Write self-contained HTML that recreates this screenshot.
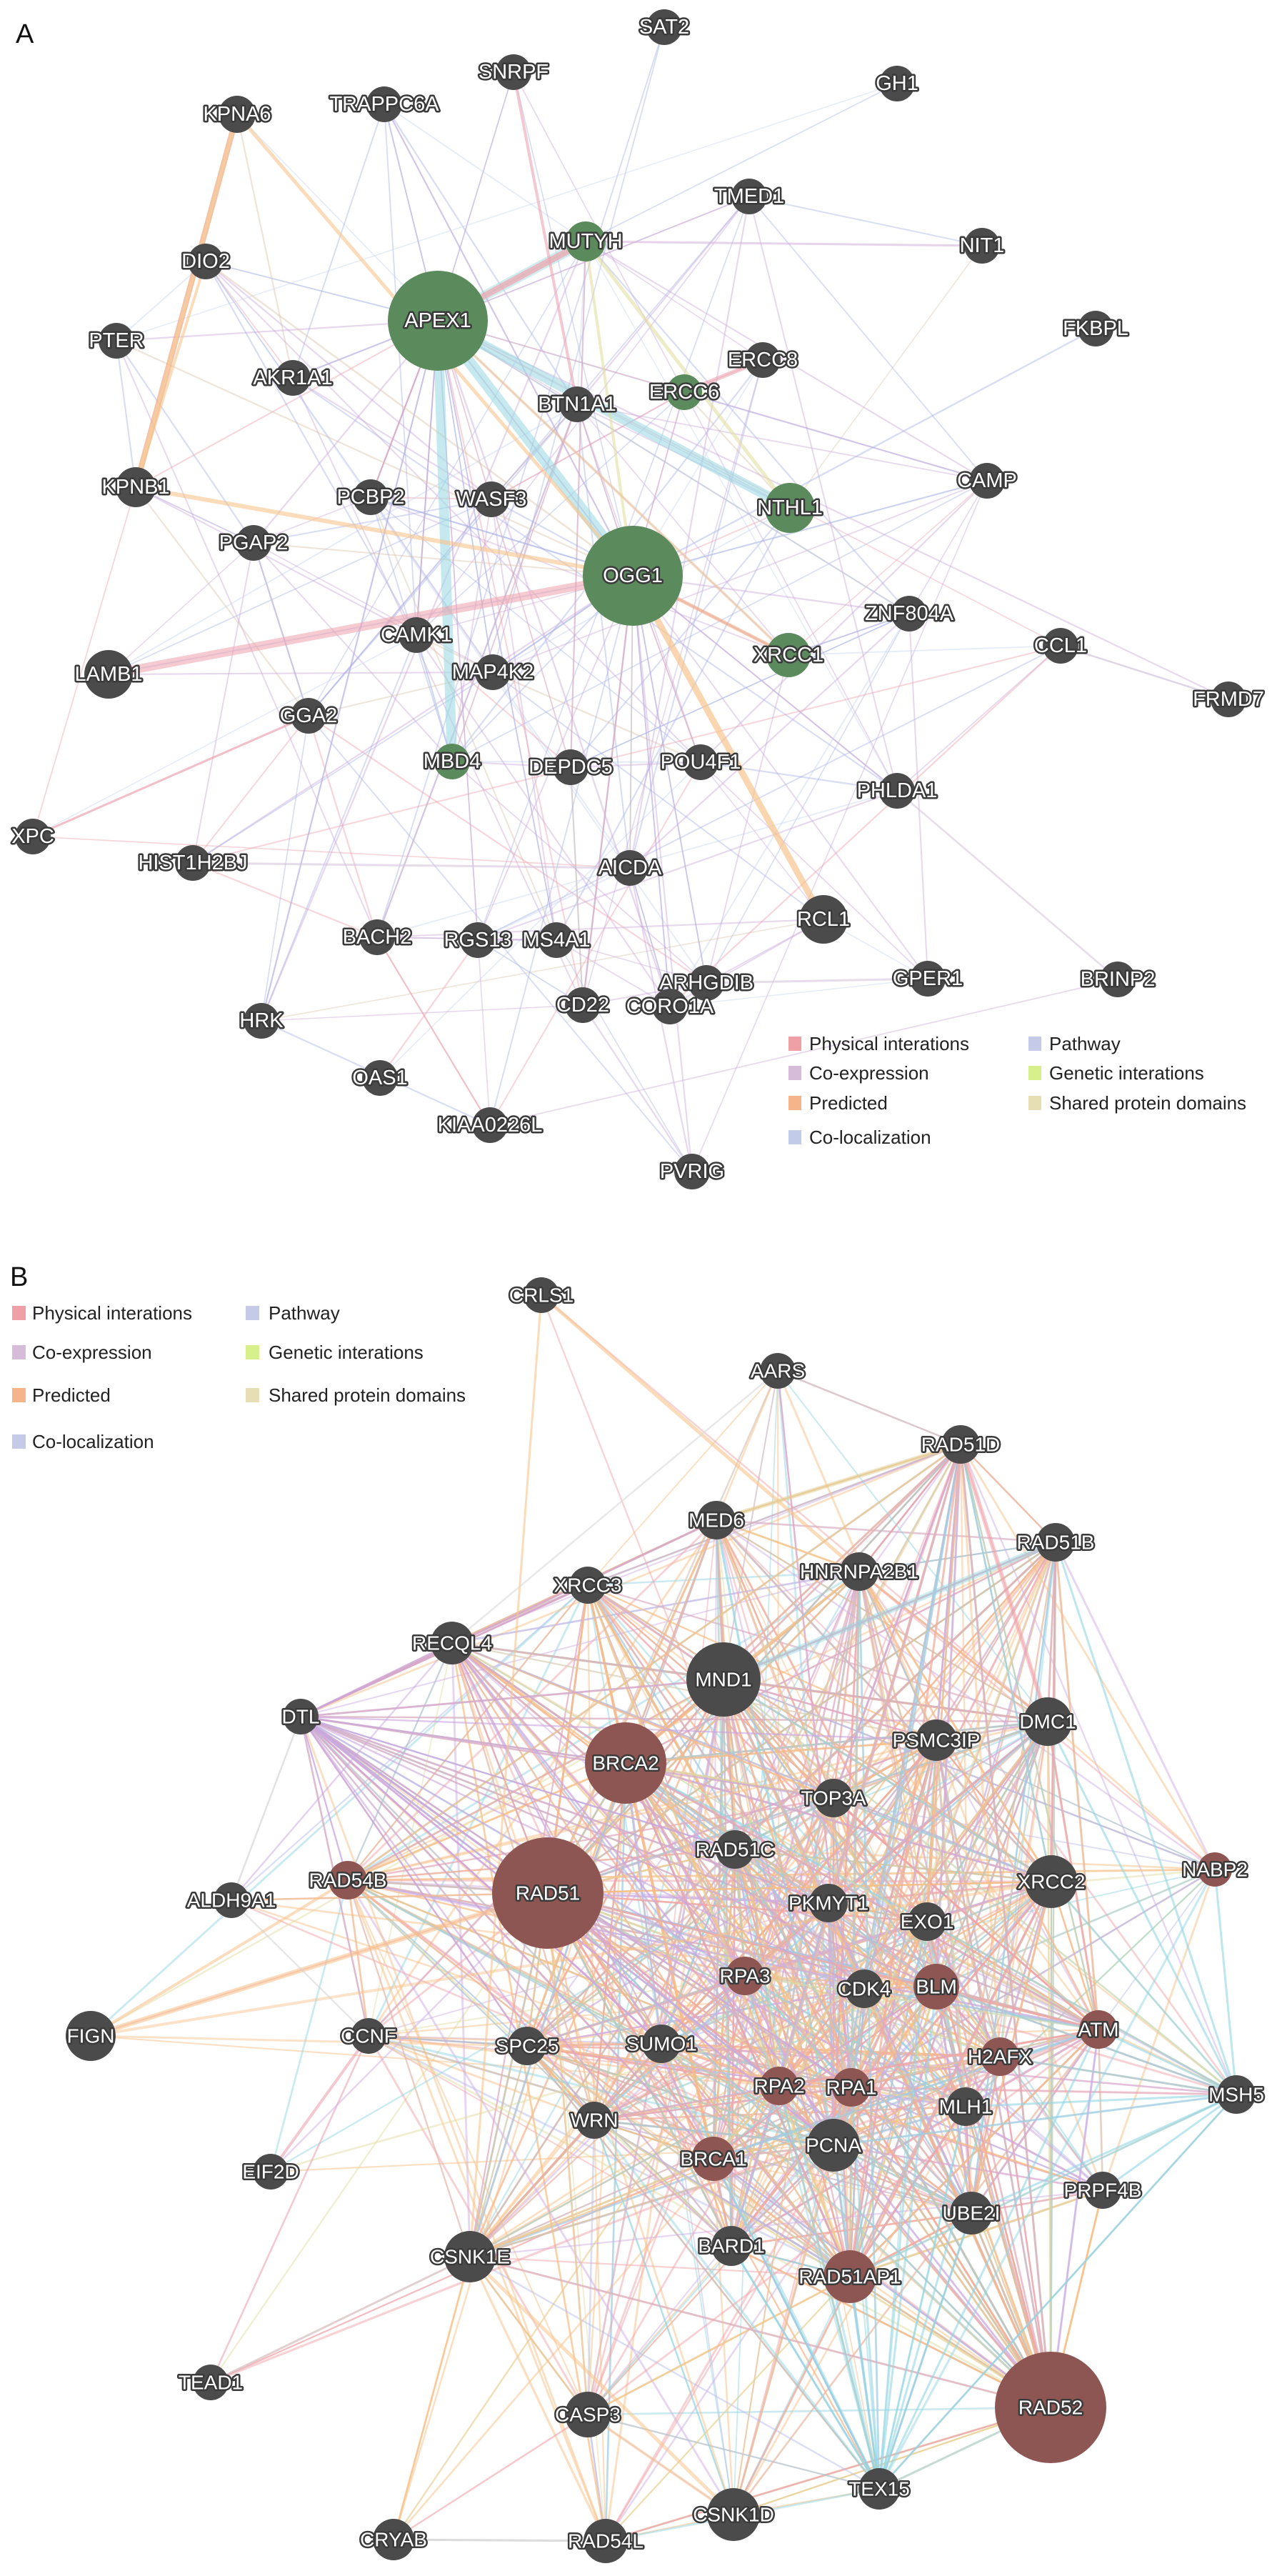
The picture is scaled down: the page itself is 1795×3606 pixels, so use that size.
<!DOCTYPE html>
<html><head><meta charset="utf-8"><style>
html,body{margin:0;padding:0;background:#fff;}
svg{display:block;}
.n text{font-family:"Liberation Sans Narrow","Liberation Sans",sans-serif;font-size:29px;fill:#fff;stroke:#3a3a3a;stroke-width:5px;paint-order:stroke;stroke-linejoin:round;text-anchor:middle;dominant-baseline:central;}
.b text{font-family:"Liberation Sans",sans-serif;font-size:28px;}
.n circle{fill:#4b4b4b;}
.g circle{fill:#5b8a5c;}
.r circle{fill:#8e5652;}
.lg text{font-family:"Liberation Sans",sans-serif;font-size:26px;fill:#222;dominant-baseline:central;}
.big{font-family:"Liberation Sans",sans-serif;font-size:38px;fill:#111;}
</style></head><body>
<svg id="s" width="1795" height="3606" viewBox="0 0 1795 3606" xmlns="http://www.w3.org/2000/svg">
<rect width="1795" height="3606" fill="#fff"/>
<g id="edges"></g>
<g id="nodes">
<!-- A -->
<g class="n a" transform="translate(930,38)"><circle r="25"/><text>SAT2</text></g>
<g class="n a" transform="translate(719,101)"><circle r="25"/><text>SNRPF</text></g>
<g class="n a" transform="translate(1256,117)"><circle r="25"/><text>GH1</text></g>
<g class="n a" transform="translate(332,160)"><circle r="26"/><text>KPNA6</text></g>
<g class="n a" transform="translate(538,146)"><circle r="25"/><text>TRAPPC6A</text></g>
<g class="n a" transform="translate(1049,275)"><circle r="25"/><text>TMED1</text></g>
<g class="n a g" transform="translate(820,338)"><circle r="28"/><text>MUTYH</text></g>
<g class="n a" transform="translate(1375,344)"><circle r="25"/><text>NIT1</text></g>
<g class="n a" transform="translate(288,366)"><circle r="25"/><text>DIO2</text></g>
<g class="n a g" transform="translate(613,449)"><circle r="70"/><text>APEX1</text></g>
<g class="n a" transform="translate(1534,460)"><circle r="25"/><text>FKBPL</text></g>
<g class="n a" transform="translate(163,477)"><circle r="25"/><text>PTER</text></g>
<g class="n a" transform="translate(410,529)"><circle r="25"/><text>AKR1A1</text></g>
<g class="n a" transform="translate(1068,504)"><circle r="25"/><text>ERCC8</text></g>
<g class="n a g" transform="translate(958,549)"><circle r="25"/><text>ERCC6</text></g>
<g class="n a" transform="translate(808,566)"><circle r="25"/><text>BTN1A1</text></g>
<g class="n a" transform="translate(190,682)"><circle r="28"/><text>KPNB1</text></g>
<g class="n a" transform="translate(519,696)"><circle r="25"/><text>PCBP2</text></g>
<g class="n a" transform="translate(688,699)"><circle r="25"/><text>WASF3</text></g>
<g class="n a" transform="translate(1382,673)"><circle r="25"/><text>CAMP</text></g>
<g class="n a g" transform="translate(1106,711)"><circle r="35"/><text>NTHL1</text></g>
<g class="n a" transform="translate(355,760)"><circle r="25"/><text>PGAP2</text></g>
<g class="n a g" transform="translate(886,806)"><circle r="70"/><text>OGG1</text></g>
<g class="n a" transform="translate(1273,859)"><circle r="25"/><text>ZNF804A</text></g>
<g class="n a" transform="translate(583,889)"><circle r="25"/><text>CAMK1</text></g>
<g class="n a" transform="translate(1485,904)"><circle r="25"/><text>CCL1</text></g>
<g class="n a" transform="translate(152,944)"><circle r="34"/><text>LAMB1</text></g>
<g class="n a g" transform="translate(1104,917)"><circle r="31"/><text>XRCC1</text></g>
<g class="n a" transform="translate(690,941)"><circle r="25"/><text>MAP4K2</text></g>
<g class="n a" transform="translate(1720,979)"><circle r="25"/><text>FRMD7</text></g>
<g class="n a" transform="translate(432,1002)"><circle r="25"/><text>GGA2</text></g>
<g class="n a g" transform="translate(633,1066)"><circle r="25"/><text>MBD4</text></g>
<g class="n a" transform="translate(799,1074)"><circle r="25"/><text>DEPDC5</text></g>
<g class="n a" transform="translate(981,1067)"><circle r="25"/><text>POU4F1</text></g>
<g class="n a" transform="translate(1256,1107)"><circle r="25"/><text>PHLDA1</text></g>
<g class="n a" transform="translate(46,1171)"><circle r="25"/><text>XPC</text></g>
<g class="n a" transform="translate(270,1208)"><circle r="25"/><text>HIST1H2BJ</text></g>
<g class="n a" transform="translate(882,1215)"><circle r="25"/><text>AICDA</text></g>
<g class="n a" transform="translate(1153,1287)"><circle r="34"/><text>RCL1</text></g>
<g class="n a" transform="translate(528,1312)"><circle r="25"/><text>BACH2</text></g>
<g class="n a" transform="translate(669,1316)"><circle r="25"/><text>RGS13</text></g>
<g class="n a" transform="translate(779,1316)"><circle r="25"/><text>MS4A1</text></g>
<g class="n a" transform="translate(989,1376)"><circle r="25"/><text>ARHGDIB</text></g>
<g class="n a" transform="translate(1299,1370)"><circle r="25"/><text>GPER1</text></g>
<g class="n a" transform="translate(1565,1371)"><circle r="25"/><text>BRINP2</text></g>
<g class="n a" transform="translate(366,1429)"><circle r="25"/><text>HRK</text></g>
<g class="n a" transform="translate(816,1407)"><circle r="25"/><text>CD22</text></g>
<g class="n a" transform="translate(938,1409)"><circle r="25"/><text>CORO1A</text></g>
<g class="n a" transform="translate(532,1509)"><circle r="25"/><text>OAS1</text></g>
<g class="n a" transform="translate(686,1575)"><circle r="25"/><text>KIAA0226L</text></g>
<g class="n a" transform="translate(969,1640)"><circle r="25"/><text>PVRIG</text></g>
<!-- B -->
<g class="n b" transform="translate(758,1813)"><circle r="25"/><text>CRLS1</text></g>
<g class="n b" transform="translate(1089,1919)"><circle r="25"/><text>AARS</text></g>
<g class="n b" transform="translate(1345,2022)"><circle r="27"/><text>RAD51D</text></g>
<g class="n b" transform="translate(1003,2128)"><circle r="27"/><text>MED6</text></g>
<g class="n b" transform="translate(1478,2159)"><circle r="27"/><text>RAD51B</text></g>
<g class="n b" transform="translate(823,2219)"><circle r="26"/><text>XRCC3</text></g>
<g class="n b" transform="translate(1203,2200)"><circle r="27"/><text>HNRNPA2B1</text></g>
<g class="n b" transform="translate(633,2300)"><circle r="30"/><text>RECQL4</text></g>
<g class="n b" transform="translate(1013,2351)"><circle r="52"/><text>MND1</text></g>
<g class="n b" transform="translate(421,2403)"><circle r="25"/><text>DTL</text></g>
<g class="n b" transform="translate(1467,2410)"><circle r="34"/><text>DMC1</text></g>
<g class="n b" transform="translate(1311,2436)"><circle r="29"/><text>PSMC3IP</text></g>
<g class="n b r" transform="translate(876,2468)"><circle r="57"/><text>BRCA2</text></g>
<g class="n b" transform="translate(1167,2517)"><circle r="27"/><text>TOP3A</text></g>
<g class="n b" transform="translate(1029,2589)"><circle r="27"/><text>RAD51C</text></g>
<g class="n b r" transform="translate(1701,2617)"><circle r="24"/><text>NABP2</text></g>
<g class="n b" transform="translate(1472,2634)"><circle r="37"/><text>XRCC2</text></g>
<g class="n b r" transform="translate(487,2632)"><circle r="27"/><text>RAD54B</text></g>
<g class="n b" transform="translate(324,2660)"><circle r="25"/><text>ALDH9A1</text></g>
<g class="n b r" transform="translate(767,2650)"><circle r="78"/><text>RAD51</text></g>
<g class="n b" transform="translate(1160,2664)"><circle r="27"/><text>PKMYT1</text></g>
<g class="n b" transform="translate(1298,2690)"><circle r="27"/><text>EXO1</text></g>
<g class="n b r" transform="translate(1043,2766)"><circle r="27"/><text>RPA3</text></g>
<g class="n b" transform="translate(1210,2784)"><circle r="27"/><text>CDK4</text></g>
<g class="n b r" transform="translate(1311,2781)"><circle r="32"/><text>BLM</text></g>
<g class="n b" transform="translate(127,2850)"><circle r="35"/><text>FIGN</text></g>
<g class="n b" transform="translate(516,2850)"><circle r="25"/><text>CCNF</text></g>
<g class="n b" transform="translate(738,2864)"><circle r="27"/><text>SPC25</text></g>
<g class="n b" transform="translate(926,2861)"><circle r="27"/><text>SUMO1</text></g>
<g class="n b r" transform="translate(1538,2841)"><circle r="27"/><text>ATM</text></g>
<g class="n b r" transform="translate(1400,2879)"><circle r="27"/><text>H2AFX</text></g>
<g class="n b" transform="translate(1731,2932)"><circle r="27"/><text>MSH5</text></g>
<g class="n b r" transform="translate(1091,2920)"><circle r="27"/><text>RPA2</text></g>
<g class="n b r" transform="translate(1192,2922)"><circle r="27"/><text>RPA1</text></g>
<g class="n b" transform="translate(1352,2949)"><circle r="27"/><text>MLH1</text></g>
<g class="n b" transform="translate(832,2968)"><circle r="26"/><text>WRN</text></g>
<g class="n b" transform="translate(1167,3003)"><circle r="37"/><text>PCNA</text></g>
<g class="n b r" transform="translate(999,3022)"><circle r="31"/><text>BRCA1</text></g>
<g class="n b" transform="translate(379,3040)"><circle r="25"/><text>EIF2D</text></g>
<g class="n b" transform="translate(1544,3066)"><circle r="26"/><text>PRPF4B</text></g>
<g class="n b" transform="translate(1360,3098)"><circle r="30"/><text>UBE2I</text></g>
<g class="n b" transform="translate(1024,3144)"><circle r="28"/><text>BARD1</text></g>
<g class="n b" transform="translate(658,3159)"><circle r="36"/><text>CSNK1E</text></g>
<g class="n b r" transform="translate(1190,3187)"><circle r="37"/><text>RAD51AP1</text></g>
<g class="n b" transform="translate(295,3335)"><circle r="25"/><text>TEAD1</text></g>
<g class="n b r" transform="translate(1471,3370)"><circle r="78"/><text>RAD52</text></g>
<g class="n b" transform="translate(823,3380)"><circle r="32"/><text>CASP3</text></g>
<g class="n b" transform="translate(1231,3484)"><circle r="29"/><text>TEX15</text></g>
<g class="n b" transform="translate(1027,3520)"><circle r="37"/><text>CSNK1D</text></g>
<g class="n b" transform="translate(551,3555)"><circle r="29"/><text>CRYAB</text></g>
<g class="n b" transform="translate(848,3557)"><circle r="31"/><text>RAD54L</text></g>
</g>
<text class="big" x="22" y="60">A</text>
<text class="big" x="14" y="1800">B</text>
<g class="lg">
<rect x="1104" y="1451" width="18" height="20" fill="#ef9fa6"/><text x="1133" y="1461">Physical interations</text>
<rect x="1104" y="1492" width="18" height="20" fill="#d6bcd8"/><text x="1133" y="1502">Co-expression</text>
<rect x="1104" y="1534" width="18" height="20" fill="#f6b48a"/><text x="1133" y="1544">Predicted</text>
<rect x="1104" y="1582" width="18" height="20" fill="#c2cce8"/><text x="1133" y="1592">Co-localization</text>
<rect x="1440" y="1451" width="18" height="20" fill="#c4cae8"/><text x="1469" y="1461">Pathway</text>
<rect x="1440" y="1492" width="18" height="20" fill="#d8f08c"/><text x="1469" y="1502">Genetic interations</text>
<rect x="1440" y="1534" width="18" height="20" fill="#e6dfb4"/><text x="1469" y="1544">Shared protein domains</text>

<rect x="17" y="1828" width="19" height="20" fill="#ef9fa6"/><text x="45" y="1838">Physical interations</text>
<rect x="17" y="1883" width="19" height="20" fill="#d6bcd8"/><text x="45" y="1893">Co-expression</text>
<rect x="17" y="1943" width="19" height="20" fill="#f6b48a"/><text x="45" y="1953">Predicted</text>
<rect x="17" y="2008" width="19" height="20" fill="#c4cae8"/><text x="45" y="2018">Co-localization</text>
<rect x="344" y="1828" width="19" height="20" fill="#c4cae8"/><text x="376" y="1838">Pathway</text>
<rect x="344" y="1883" width="19" height="20" fill="#d8f08c"/><text x="376" y="1893">Genetic interations</text>
<rect x="344" y="1943" width="19" height="20" fill="#e6dfb4"/><text x="376" y="1953">Shared protein domains</text>
</g>
</svg>
<script>
(function(){
var NS='http://www.w3.org/2000/svg';
var s=12345;function R(){s=(s*1664525+1013904223)>>>0;return s/4294967296;}
var E=document.getElementById('edges');
var A=[],B=[],M={};
document.querySelectorAll('g.n').forEach(function(g){
 var t=g.getAttribute('transform').match(/translate\(([\d.]+),([\d.]+)\)/);
 var o={x:+t[1],y:+t[2],r:+g.querySelector('circle').getAttribute('r'),n:g.querySelector('text').textContent};
 M[o.n]=o;(g.classList.contains('a')?A:B).push(o);
});
var PER={'TEAD1':0.05,'FIGN':0.1,'CRLS1':0.05,'EIF2D':0.1,'CRYAB':0.1,'ALDH9A1':0.15,'AARS':0.25,'CCNF':0.4,'MSH5':0.3,'TEX15':0.3,'NABP2':0.4,'PRPF4B':0.4,'CSNK1D':0.4,'RAD54L':0.5,'CASP3':0.5,'CSNK1E':0.6,'DTL':0.6,
 'XPC':0.1,'FRMD7':0.1,'BRINP2':0.1,'GH1':0.3,'SAT2':0.4,'FKBPL':0.4,'CCL1':0.5,'PTER':0.5,'LAMB1':0.5,'HRK':0.6,'HIST1H2BJ':0.5,'GPER1':0.6,'PVRIG':0.7,'KPNA6':0.4,'NIT1':0.5};
function pf(o){return PER[o.n]===undefined?1:PER[o.n];}
function L(a,b,c,w,op){var l=document.createElementNS(NS,'line');
 l.setAttribute('x1',a.x);l.setAttribute('y1',a.y);l.setAttribute('x2',b.x);l.setAttribute('y2',b.y);
 l.setAttribute('stroke',c);l.setAttribute('stroke-width',w);l.setAttribute('stroke-opacity',op);l.setAttribute('stroke-linecap','round');E.appendChild(l);}
function pick(arr,cols){var c=R(),acc=0;for(var i=0;i<cols.length;i++){acc+=cols[i][1];if(c<acc)return cols[i][0];}return cols[0][0];}
var colsA=[['#c9a9d9',0.38],['#a9b3e6',0.3],['#eda3b0',0.1],['#d9c4a8',0.08],['#c8d4ee',0.14]];
function rand(arr,count,cols,scale,wmin,wmax,op,hubBias){
 var k=0,tries=0;while(k<count&&tries<count*80){tries++;
  var a=arr[Math.floor(R()*arr.length)],b=arr[Math.floor(R()*arr.length)];
  if(a===b)continue;var d=Math.hypot(a.x-b.x,a.y-b.y);
  var p=Math.exp(-d/scale)*(hubBias?(1+(a.r+b.r-50)/25):1)*pf(a)*pf(b);
  if(R()>p)continue;L(a,b,pick(cols,cols),wmin+R()*(wmax-wmin),op);k++;}
}
rand(A,230,colsA,420,1.5,2.3,0.45,true);
['APEX1','OGG1'].forEach(function(h){A.forEach(function(o){if(o.n!==h&&R()<(h=='OGG1'?0.5:0.22)*pf(o))L(M[h],o,pick(colsA,colsA),1.6+R(),0.45);});});
function S(a,b,c,w,op){L(M[a],M[b],c,w,op||0.6);}
S('APEX1','OGG1','#9fdbe3',16,0.6);S('APEX1','NTHL1','#9fdbe3',14,0.6);
S('APEX1','MBD4','#9fdbe3',14,0.6);S('APEX1','MUTYH','#9fdbe3',14,0.5);S('APEX1','MUTYH','#eea5ad',9,0.7);
S('KPNA6','KPNB1','#f3a77c',8,0.7);S('DIO2','KPNB1','#f6c48e',4,0.6);S('KPNA6','KPNB1','#f1d59c',3,0.6);
S('KPNA6','OGG1','#f6c48e',5,0.6);S('KPNB1','OGG1','#f6c48e',6,0.6);
S('LAMB1','OGG1','#efa7b0',12,0.6);S('OGG1','RCL1','#f6c48e',9,0.7);
S('XPC','GGA2','#eda3b0',3,0.7);S('SNRPF','BTN1A1','#eda3b0',4,0.6);S('OGG1','XRCC1','#f3a77c',5,0.6);
S('ERCC8','ERCC6','#eda3b0',6,0.6);S('MUTYH','NTHL1','#e1e0a0',5,0.6);S('MUTYH','OGG1','#e1e0a0',4,0.6);
S('APEX1','XRCC1','#f6c48e',4,0.5);S('MUTYH','NIT1','#d6b8dc',3,0.6);S('CCL1','FRMD7','#d6c4dc',2.5,0.6);
S('PHLDA1','BRINP2','#d6c4dc',2.5,0.6);S('HIST1H2BJ','AICDA','#d6c4dc',3,0.6);S('ARHGDIB','GPER1','#d6c4dc',3,0.6);
// B
var colsB=[['#f8bf86',0.36],['#f0a3a9',0.2],['#cfaee3',0.17],['#93d6e2',0.13],['#e2dda2',0.08],['#b7bde9',0.06]];
rand(B,1750,colsB,600,1.8,3.0,0.5,true);
var hubs={'RAD51':0.9,'BRCA2':0.7,'PCNA':0.6,'RAD51AP1':0.5,'RAD52':0.45,'DTL':0.5,'XRCC2':0.5,'BLM':0.5,'RPA1':0.5,'RPA2':0.5,'MND1':0.45,'DMC1':0.5,'TEX15':0.35,'RECQL4':0.45,'CSNK1E':0.35,'RAD51D':0.4,'ATM':0.4};
for(var h in hubs){B.forEach(function(o){if(o.n!==h&&R()<hubs[h]*pf(o)){var c=pick(colsB,colsB);
 if(h=='DTL'||h=='RECQL4')c=R()<0.6?'#c9a4e0':c; if(h=='TEX15')c='#93d6e2';
 L(M[h],o,c,2+R()*1.3,0.5);}});}
['RAD51','BRCA2','RAD51C','PKMYT1','RPA3','SUMO1','SPC25','WRN','BRCA1','PCNA','RPA2','RPA1','TOP3A','CDK4','BLM','MND1','PSMC3IP','XRCC3','RAD54B','CCNF','MED6','BARD1'].forEach(function(n){L(M['DTL'],M[n],'#c9a4e0',2.4,0.6);});
['DMC1','XRCC2','H2AFX','ATM','MLH1','RAD51AP1','BLM','PCNA','UBE2I','RAD51B','EXO1','PRPF4B','NABP2','TEX15'].forEach(function(n){L(M['MSH5'],M[n],'#93d6e2',3,0.6);});
['RAD51AP1','PCNA','BLM','RPA1','RPA2','UBE2I','H2AFX','MLH1','BRCA1','BARD1','EXO1','ATM'].forEach(function(n){L(M['TEX15'],M[n],'#93d6e2',3,0.6);});
S('CRLS1','HNRNPA2B1','#f6c48e',5,0.6);S('CRLS1','CSNK1E','#f6c48e',3,0.6);S('FIGN','RAD51','#f8bf86',7,0.55);
S('FIGN','RAD54B','#f8bf86',4,0.55);S('FIGN','XRCC2','#f8bf86',4,0.45);S('FIGN','SPC25','#f8bf86',3,0.45);S('CRYAB','RAD54L','#cccccc',3,0.7);
S('CRYAB','CSNK1E','#f6c48e',3,0.6);S('CRYAB','CASP3','#f0a3a9',2.5,0.6);S('TEAD1','CSNK1E','#cfcfcf',2.5,0.6);S('TEAD1','CCNF','#eda3b0',2.5,0.6);
S('EIF2D','CCNF','#eda3b0',4,0.6);S('EIF2D','RAD51','#cfaee3',2.5,0.5);S('DTL','ALDH9A1','#cfcfcf',2.5,0.6);S('ALDH9A1','RAD51','#f8bf86',2.5,0.5);S('ALDH9A1','CCNF','#cfcfcf',2.5,0.5);
S('AARS','RECQL4','#d9d9d9',2.5,0.6);S('AARS','RAD51D','#f0a3a9',2.5,0.5);S('AARS','MED6','#f8bf86',2.5,0.5);S('AARS','PSMC3IP','#f8bf86',3,0.5);
S('MED6','RAD51D','#e2cf9a',6,0.55);S('RAD51B','MND1','#93d6e2',8,0.45);S('RAD51D','DMC1','#f0a3a9',6,0.55);
S('CSNK1D','CSNK1E','#f6c48e',5,0.55);S('CSNK1D','CASP3','#f6c48e',4,0.55);
})();
</script>
</body></html>
